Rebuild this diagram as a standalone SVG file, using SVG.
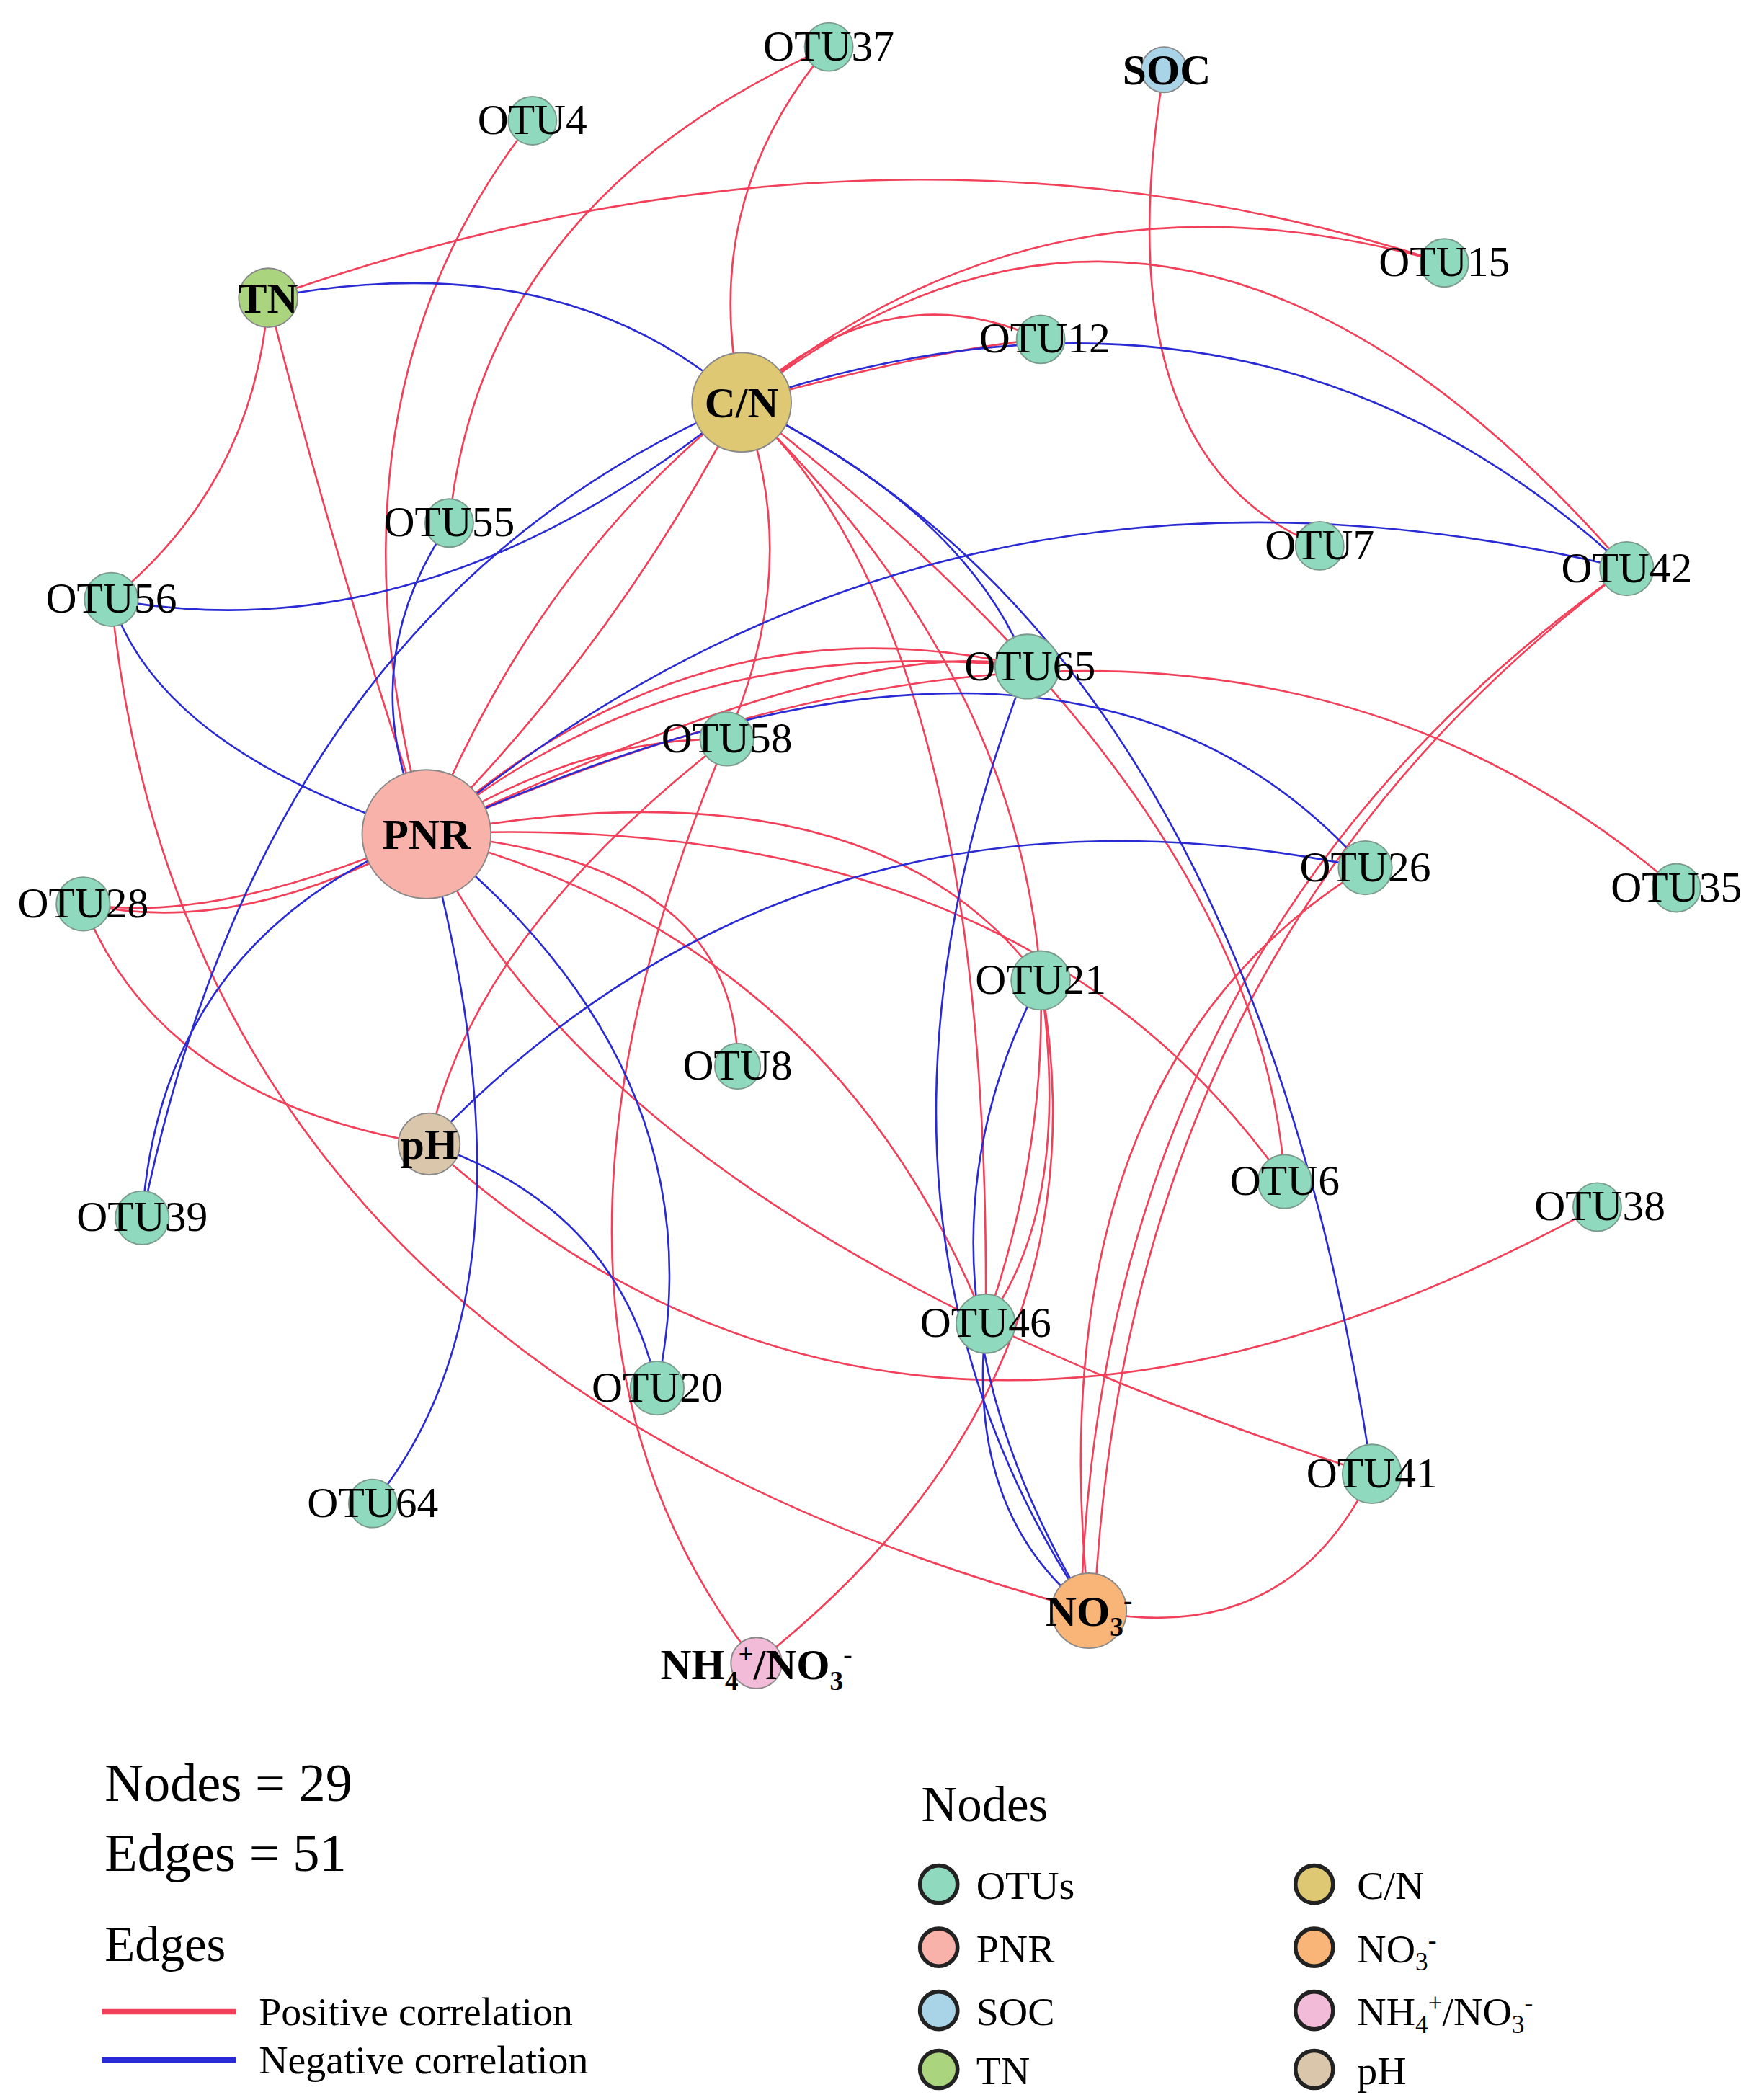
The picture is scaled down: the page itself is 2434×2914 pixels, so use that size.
<svg xmlns="http://www.w3.org/2000/svg" width="2434" height="2914" viewBox="0 0 2434 2914">
<style>
.p{fill:none;stroke:#f2405a;stroke-width:1.4}
.n{fill:none;stroke:#2a2ad4;stroke-width:1.4}
.o{fill:#8fd9be;stroke:#7a9a8c;stroke-width:1}
circle{stroke:#888;stroke-width:1}
text{font-family:"Liberation Serif","Times New Roman",serif;fill:#000}
.l{font-size:32px;text-anchor:middle}
.b{font-weight:bold}
.lg{stroke:#222;stroke-width:3}
</style>
<rect width="2434" height="2914" fill="#fff"/>
<g transform="scale(1.861)">
<g id="edges">
<path class="p" d="M618,35 Q520,150 553,300"/>
<path class="p" d="M618,35 Q360,150 335,390"/>
<path class="p" d="M397,90 Q230,300 318,622"/>
<path class="p" d="M200,222 Q660,60 1077,196"/>
<path class="p" d="M200,222 Q190,360 83,447"/>
<path class="p" d="M200,222 Q250,420 318,622"/>
<path class="p" d="M553,300 Q880,40 1213,424"/>
<path class="p" d="M553,300 Q660,200 776,253"/>
<path class="p" d="M553,300 Q700,260 776,253"/>
<path class="p" d="M553,300 Q780,110 1077,196"/>
<path class="p" d="M553,300 Q400,420 318,622"/>
<path class="p" d="M553,300 Q460,480 318,622"/>
<path class="p" d="M553,300 Q600,420 542,551"/>
<path class="p" d="M553,300 Q760,500 776,731"/>
<path class="p" d="M553,300 Q740,470 735,987"/>
<path class="p" d="M553,300 Q940,600 958,881"/>
<path class="p" d="M868,52 Q820,340 984,407"/>
<path class="p" d="M1213,424 Q820,700 806,1201"/>
<path class="p" d="M1213,424 Q840,700 816,1201"/>
<path class="p" d="M318,622 Q500,470 766,497"/>
<path class="p" d="M318,622 Q520,440 766,497"/>
<path class="p" d="M318,622 Q900,360 1250,662"/>
<path class="p" d="M318,622 Q640,470 766,497"/>
<path class="p" d="M318,622 Q430,550 542,551"/>
<path class="p" d="M318,622 Q550,640 550,795"/>
<path class="p" d="M318,622 Q650,560 776,731"/>
<path class="p" d="M318,622 Q760,600 958,881"/>
<path class="p" d="M318,622 Q620,700 735,987"/>
<path class="p" d="M318,622 Q460,920 1023,1099"/>
<path class="p" d="M318,622 Q160,690 62,674"/>
<path class="p" d="M318,622 Q180,700 62,674"/>
<path class="p" d="M62,674 Q120,820 320,853"/>
<path class="p" d="M83,447 Q140,1020 812,1201"/>
<path class="p" d="M542,551 Q350,700 320,853"/>
<path class="p" d="M542,551 Q360,980 564,1240"/>
<path class="p" d="M776,731 Q830,1030 564,1240"/>
<path class="p" d="M320,853 Q680,1180 1191,900"/>
<path class="p" d="M1023,1099 Q960,1230 812,1201"/>
<path class="p" d="M1018,647 Q770,800 812,1201"/>
<path class="p" d="M776,731 Q800,900 735,987"/>
<path class="p" d="M776,731 Q780,860 735,987"/>
<path class="n" d="M200,222 Q420,180 553,300"/>
<path class="n" d="M553,300 Q940,170 1213,424"/>
<path class="n" d="M553,300 Q320,490 83,447"/>
<path class="n" d="M553,300 Q720,380 766,497"/>
<path class="n" d="M553,300 Q930,480 1023,1099"/>
<path class="n" d="M553,300 Q200,450 106,908"/>
<path class="n" d="M335,390 Q260,500 318,622"/>
<path class="n" d="M83,447 Q120,560 318,622"/>
<path class="n" d="M318,622 Q700,300 1213,424"/>
<path class="n" d="M318,622 Q800,400 1018,647"/>
<path class="n" d="M320,853 Q600,560 1018,647"/>
<path class="n" d="M318,622 Q120,700 106,908"/>
<path class="n" d="M318,622 Q540,800 490,1035"/>
<path class="n" d="M318,622 Q410,960 278,1121"/>
<path class="n" d="M320,853 Q460,900 490,1035"/>
<path class="n" d="M766,497 Q610,900 812,1201"/>
<path class="n" d="M776,731 Q660,950 812,1201"/>
<path class="n" d="M735,987 Q720,1130 812,1201"/>
</g>
<g id="nodes">
<g id="n-OTU37"><circle class="o" cx="618" cy="35" r="18"/><text class="l" x="618" y="45">OTU37</text></g>
<g id="n-SOC"><circle cx="868" cy="52" r="17" fill="#a9d3e6"/><text class="l b" x="870" y="63">SOC</text></g>
<g id="n-OTU4"><circle class="o" cx="397" cy="90" r="18"/><text class="l" x="397" y="100">OTU4</text></g>
<g id="n-TN"><circle cx="200" cy="222" r="22" fill="#aad47e"/><text class="l b" x="200" y="233">TN</text></g>
<g id="n-OTU15"><circle class="o" cx="1077" cy="196" r="18"/><text class="l" x="1077" y="206">OTU15</text></g>
<g id="n-CN"><circle cx="553" cy="300" r="37" fill="#dfc873"/><text class="l b" x="553" y="311">C/N</text></g>
<g id="n-OTU12"><circle class="o" cx="776" cy="253" r="18"/><text class="l" x="779" y="263">OTU12</text></g>
<g id="n-OTU55"><circle class="o" cx="335" cy="390" r="18"/><text class="l" x="335" y="400">OTU55</text></g>
<g id="n-OTU7"><circle class="o" cx="984" cy="407" r="18"/><text class="l" x="984" y="417">OTU7</text></g>
<g id="n-OTU42"><circle class="o" cx="1213" cy="424" r="20"/><text class="l" x="1213" y="434">OTU42</text></g>
<g id="n-OTU56"><circle class="o" cx="83" cy="447" r="20"/><text class="l" x="83" y="457">OTU56</text></g>
<g id="n-OTU65"><circle class="o" cx="766" cy="497" r="24"/><text class="l" x="768" y="507">OTU65</text></g>
<g id="n-OTU58"><circle class="o" cx="542" cy="551" r="20"/><text class="l" x="542" y="561">OTU58</text></g>
<g id="n-PNR"><circle cx="318" cy="622" r="48" fill="#f9b2aa"/><text class="l b" x="318" y="633">PNR</text></g>
<g id="n-OTU28"><circle class="o" cx="62" cy="674" r="20"/><text class="l" x="62" y="684">OTU28</text></g>
<g id="n-OTU26"><circle class="o" cx="1018" cy="647" r="20"/><text class="l" x="1018" y="657">OTU26</text></g>
<g id="n-OTU35"><circle class="o" cx="1250" cy="662" r="18"/><text class="l" x="1250" y="672">OTU35</text></g>
<g id="n-OTU21"><circle class="o" cx="776" cy="731" r="22"/><text class="l" x="776" y="741">OTU21</text></g>
<g id="n-OTU8"><circle class="o" cx="550" cy="795" r="17"/><text class="l" x="550" y="805">OTU8</text></g>
<g id="n-pH"><circle cx="320" cy="853" r="23" fill="#d9c6ab"/><text class="l b" x="320" y="864">pH</text></g>
<g id="n-OTU6"><circle class="o" cx="958" cy="881" r="20"/><text class="l" x="958" y="891">OTU6</text></g>
<g id="n-OTU39"><circle class="o" cx="106" cy="908" r="20"/><text class="l" x="106" y="918">OTU39</text></g>
<g id="n-OTU38"><circle class="o" cx="1191" cy="900" r="18"/><text class="l" x="1193" y="910">OTU38</text></g>
<g id="n-OTU46"><circle class="o" cx="735" cy="987" r="22"/><text class="l" x="735" y="997">OTU46</text></g>
<g id="n-OTU20"><circle class="o" cx="490" cy="1035" r="20"/><text class="l" x="490" y="1045">OTU20</text></g>
<g id="n-OTU41"><circle class="o" cx="1023" cy="1099" r="22"/><text class="l" x="1023" y="1109">OTU41</text></g>
<g id="n-OTU64"><circle class="o" cx="278" cy="1121" r="18"/><text class="l" x="278" y="1131">OTU64</text></g>
<g id="n-NO3"><circle cx="812" cy="1201" r="28" fill="#f9b577"/><text class="l b" x="812" y="1212">NO<tspan font-size="20" dy="8">3</tspan><tspan font-size="20" dy="-20">-</tspan></text></g>
<g id="n-NH4NO3"><circle cx="564" cy="1240" r="19" fill="#f2bcd9"/><text class="l b" x="564" y="1252">NH<tspan font-size="20" dy="8">4</tspan><tspan font-size="20" dy="-20">+</tspan><tspan dy="12">/NO</tspan><tspan font-size="20" dy="8">3</tspan><tspan font-size="20" dy="-20">-</tspan></text></g>
</g>
<g id="legend">
<text x="78" y="1343" font-size="40">Nodes = 29</text>
<text x="78" y="1395" font-size="40">Edges = 51</text>
<text x="78" y="1462" font-size="37">Edges</text>
<line x1="76" y1="1500" x2="176" y2="1500" stroke="#f2405a" stroke-width="4"/>
<line x1="76" y1="1536" x2="176" y2="1536" stroke="#2a2ad4" stroke-width="4"/>
<text x="193" y="1510" font-size="30">Positive correlation</text>
<text x="193" y="1546" font-size="30">Negative correlation</text>
<text x="687" y="1358" font-size="37">Nodes</text>
<circle class="lg" cx="700" cy="1405" r="14" fill="#8fd9be"/>
<circle class="lg" cx="700" cy="1452" r="14" fill="#f9b2aa"/>
<circle class="lg" cx="700" cy="1499" r="14" fill="#a9d3e6"/>
<circle class="lg" cx="700" cy="1543" r="14" fill="#aad47e"/>
<circle class="lg" cx="980" cy="1405" r="14" fill="#dfc873"/>
<circle class="lg" cx="980" cy="1452" r="14" fill="#f9b577"/>
<circle class="lg" cx="980" cy="1499" r="14" fill="#f2bcd9"/>
<circle class="lg" cx="980" cy="1543" r="14" fill="#d9c6ab"/>
<g font-size="30">
<text x="728" y="1416">OTUs</text>
<text x="728" y="1463">PNR</text>
<text x="728" y="1510">SOC</text>
<text x="728" y="1554">TN</text>
<text x="1012" y="1416">C/N</text>
<text x="1012" y="1463">NO<tspan font-size="19" dy="6">3</tspan><tspan font-size="19" dy="-16">-</tspan></text>
<text x="1012" y="1510">NH<tspan font-size="19" dy="6">4</tspan><tspan font-size="19" dy="-16">+</tspan><tspan dy="10">/NO</tspan><tspan font-size="19" dy="6">3</tspan><tspan font-size="19" dy="-16">-</tspan></text>
<text x="1012" y="1554">pH</text>
</g>
</g>
</g>
</svg>
